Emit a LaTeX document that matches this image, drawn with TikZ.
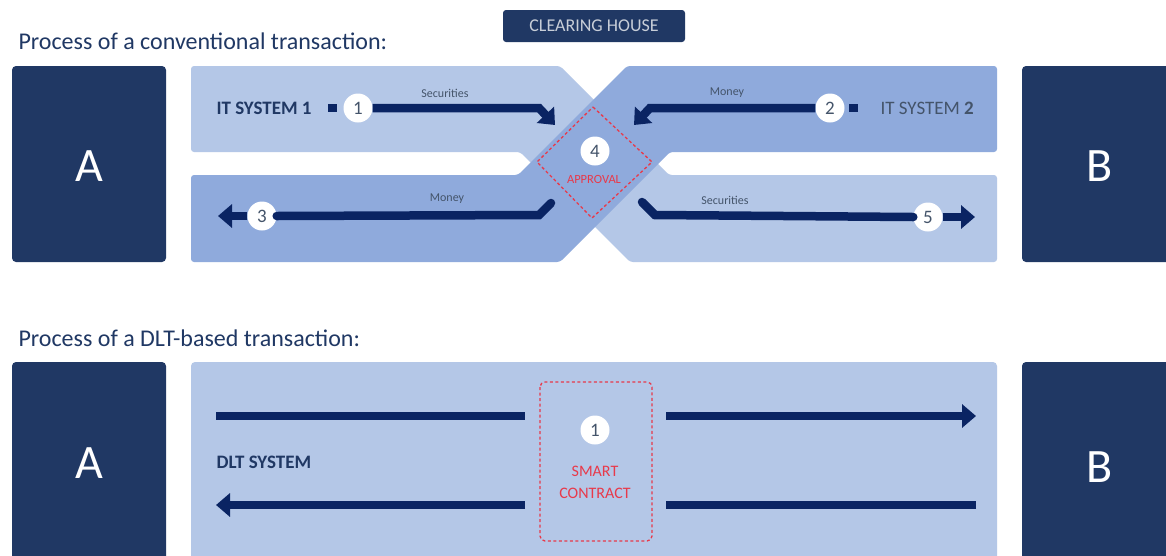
\documentclass[tikz,border=0pt]{standalone}
\usepackage{fontspec}
\setmainfont{Carlito}
\usetikzlibrary{arrows.meta}
\definecolor{navy}{HTML}{203864}
\definecolor{arrowc}{HTML}{0A2463}
\definecolor{lightb}{HTML}{B4C7E7}
\definecolor{midb}{HTML}{8FAADC}
\definecolor{redd}{HTML}{E8394A}
\definecolor{greyt}{HTML}{44546A}
\definecolor{chtext}{HTML}{C8CED8}
\tikzset{
  party/.style={fill=navy, rounded corners=4pt},
  partylbl/.style={text=white, font=\fontsize{48}{48}\selectfont},
  numc/.style={circle, fill=white, minimum size=29pt, inner sep=0pt, text=greyt, font=\fontsize{19}{19}\selectfont},
  flow/.style={draw=arrowc, line width=8.5pt, line cap=round},
  headtip/.style={-{Triangle[width=23pt,length=14pt]}},
  sq/.style={fill=arrowc, minimum width=9pt, minimum height=8pt, inner sep=0pt},
  small/.style={text=greyt, font=\fontsize{12}{12}\selectfont},
  title/.style={text=navy, font=\fontsize{24}{26}\selectfont, anchor=base west},
  sys/.style={text=navy, font=\bfseries\fontsize{19}{20}\selectfont},
  redline/.style={draw=redd, line width=1.3pt, dash pattern=on 3pt off 2.5pt},
}
\begin{document}
\begin{tikzpicture}[x=1pt,y=-1pt]
\useasboundingbox (0,0) rectangle (1166,555);
\clip (0,0) rectangle (1166,555);
\fill[white] (0,0) rectangle (1166,555);

% ---------- conventional ----------
\node[title] (t1) at (15,49) {Process of a conventional transaction:};
\node[fill=navy, rounded corners=3pt, minimum width=182pt, minimum height=32pt, text=chtext,
      font=\fontsize{18}{18}\selectfont] (ch) at (594,26) {CLEARING HOUSE};

\fill[party] (12,66) rectangle (166,262);
\node[partylbl] (A1) at (89,166) {A};
\fill[party] (1022,66) rectangle (1180,262);
\node[partylbl] (B1) at (1100,166) {B};

% light band (top-left to bottom-right)
\fill[lightb, rounded corners=3pt] (191,66) -- (560,66) -- (669,175) -- (997,175) -- (997,262)
   -- (630,262) -- (520,152) -- (191,152) -- cycle;
% mid band (top-right to bottom-left)
\fill[midb, rounded corners=3pt] (627,66) -- (997,66) -- (997,152) -- (670,152) -- (560,262)
   -- (191,262) -- (191,175) -- (518,175) -- cycle;

% approval diamond
\draw[redline] (593,107) -- (652,162) -- (592,218) -- (537,162) -- cycle;
\node[numc] (n4) at (595,151) {4};
\node[text=redd, font=\fontsize{12.5}{13}\selectfont] (appr) at (594,179) {APPROVAL};

% arrow 1
\node[sys, anchor=west] (it1) at (213,108) {IT SYSTEM 1};
\node[sq] (sq1) at (332,108) {};
\node[numc] (n1) at (358,108) {1};
\coordinate (b1) at (539,108);
\coordinate (e1) at (555,125);
\draw[flow, headtip, line cap=butt] (n1.east) -- (b1) -- (e1);
\node[small] (lab1) at (445,93) {Securities};

% arrow 2
\node[text=greyt, font=\fontsize{19}{20}\selectfont, anchor=west] (it2) at (877,108) {IT SYSTEM \textbf{2}};
\node[sq] (sq2) at (853,108) {};
\node[numc] (n2) at (830,108) {2};
\coordinate (b2) at (650,108);
\coordinate (e2) at (634,125);
\draw[flow, headtip, line cap=butt] (n2.west) -- (b2) -- (e2);
\node[small] (lab2) at (727,93) {Money};

% arrow 3
\coordinate (s3) at (551,203);
\coordinate (b3) at (539,215);
\node[numc] (n3) at (262,216) {3};
\coordinate (e3) at (218,216);
\draw[flow] (s3) -- (b3) -- (n3.east);
\draw[flow, headtip, line cap=butt] (n3.west) -- (e3);
\node[small] (lab3) at (447,199) {Money};

% arrow 5
\coordinate (s5) at (642,202);
\coordinate (b5) at (655,215);
\node[numc] (n5) at (928,217) {5};
\coordinate (e5) at (975,217);
\draw[flow] (s5) -- (b5) -- (n5.west);
\draw[flow, headtip, line cap=butt] (n5.east) -- (e5);
\node[small] (lab5) at (725,200) {Securities};

% ---------- DLT ----------
\node[title] (t2) at (15,346) {Process of a DLT-based transaction:};
\fill[party] (12,362) rectangle (166,575);
\node[partylbl] (A2) at (89,463) {A};
\fill[party] (1022,362) rectangle (1180,575);
\node[partylbl] (B2) at (1100,467) {B};
\fill[lightb, rounded corners=4pt] (191,362) rectangle (997,575);

\draw[redline, rounded corners=5pt] (540,382) rectangle (652,541);
\node[numc] (m1) at (595,430) {1};
\node[text=redd, font=\fontsize{16}{22}\selectfont, align=center] (sc) at (595,482) {SMART\\CONTRACT};
\node[sys, anchor=west] (dlt) at (213,462) {DLT SYSTEM};

\coordinate (p1) at (216,416);
\coordinate (p2) at (525,416);
\coordinate (p3) at (666,416);
\coordinate (p4) at (976,416);
\draw[flow, line cap=butt] (p1) -- (p2);
\draw[flow, headtip, line cap=butt] (p3) -- (p4);
\coordinate (q1) at (976,505);
\coordinate (q2) at (666,505);
\coordinate (q3) at (525,505);
\coordinate (q4) at (216,505);
\draw[flow, line cap=butt] (q1) -- (q2);
\draw[flow, headtip, line cap=butt] (q3) -- (q4);
\end{tikzpicture}
\end{document}
